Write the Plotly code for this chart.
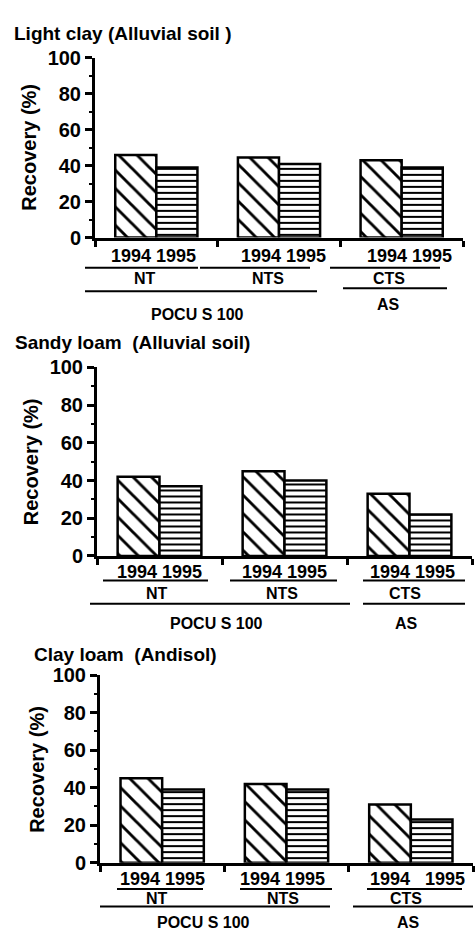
import plotly.graph_objects as go

W, H = 475, 943

groups = ["NT", "NTS", "CTS"]
years = ["1994", "1995"]
panel_titles = ["Light clay (Alluvial soil )", "Sandy loam  (Alluvial soil)", "Clay loam  (Andisol)"]

light_clay_1994 = [46, 44.5, 43]
light_clay_1995 = [39, 41, 39]
sandy_loam_1994 = [42, 45, 33]
sandy_loam_1995 = [37, 40, 22]
clay_loam_1994 = [45, 42, 31]
clay_loam_1995 = [39, 39, 23]

y_ticks = [0, 20, 40, 60, 80, 100]
y_title = "Recovery (%)"
year_labels = [["1994 1995", "1994 1995", "1994 1995"],
               ["1994 1995", "1994 1995", "1994 1995"],
               ["1994 1995", "1994 1995", "1994   1995"]]
treatment_labels = ["POCU S 100", "AS"]

series = [(light_clay_1994, light_clay_1995),
          (sandy_loam_1994, sandy_loam_1995),
          (clay_loam_1994, clay_loam_1995)]

# layout in pixels
panels = [
    dict(x0=95, x1=463, yt=48, yb=232, title=(12, 23), ytitle=(29, 140),
         years_y=251, years_x=[153, 283, 409],
         ul_y=263, ul=[(85, 198), (200, 310), (330, 440)],
         gl_y=274, gl_x=[145, 268, 389],
         l2=[(85, 317, 287), (343, 447, 284)],
         pocus=(197, 311), as_=(388, 300)),
    dict(x0=97, x1=472, yt=365, yb=558, title=(13, 339), ytitle=(31, 462),
         years_y=574, years_x=[159, 284, 412],
         ul_y=583, ul=[(103, 208), (230, 337), (363, 465)],
         gl_y=596, gl_x=[157, 282, 405],
         l2=[(90, 350, 607), (363, 465, 607)],
         pocus=(216, 627), as_=(406, 627)),
    dict(x0=100, x1=473, yt=680, yb=872, title=(32, 659), ytitle=(37, 777),
         years_y=889, years_x=[162, 282, 417],
         ul_y=899, ul=[(117, 203), (240, 332), (367, 462)],
         gl_y=909, gl_x=[157, 283, 406],
         l2=[(100, 330, 917), (353, 473, 917)],
         pocus=(203, 933), as_=(408, 933)),
]

FONT = "Liberation Sans"
px = lambda x: x / W
py = lambda y: 1 - y / H


def fnt(size):
    return dict(family=FONT, size=size, color="black", weight="bold")


fig = go.Figure()
annotations = []
shapes = []

for i, (p, (v94, v95)) in enumerate(zip(panels, series)):
    xa = "x" if i == 0 else f"x{i+1}"
    ya = "y" if i == 0 else f"y{i+1}"
    for yr, vals, shape, size, sol in [(years[0], v94, "\\", 13, 0.22),
                                        (years[1], v95, "-", 6, 0.34)]:
        fig.add_trace(go.Bar(
            x=list(range(len(groups))), y=vals, name=yr, xaxis=xa, yaxis=ya,
            marker=dict(color="white", line=dict(color="black", width=2.5),
                        pattern=dict(shape=shape, size=size, solidity=sol,
                                     fgcolor="black", bgcolor="white", fgopacity=1)),
            showlegend=False))
    xkey = "xaxis" if i == 0 else f"xaxis{i+1}"
    ykey = "yaxis" if i == 0 else f"yaxis{i+1}"
    fig.update_layout(**{
        xkey: dict(domain=[px(p["x0"]), px(p["x1"])], anchor=ya, range=[-0.5, 2.5],
                   showline=True, linecolor="black", linewidth=3,
                   tickvals=[-0.5, 0.5, 1.5, 2.5], ticktext=["", "", "", ""],
                   ticks="outside", ticklen=6, tickwidth=3, tickcolor="black",
                   showgrid=False, zeroline=False, fixedrange=True),
        ykey: dict(domain=[py(p["yb"]), py(p["yt"])], anchor=xa, range=[0, 100],
                   showline=True, linecolor="black", linewidth=3,
                   tickvals=y_ticks, ticks="outside", ticklen=7, tickwidth=2.5,
                   tickcolor="black", showgrid=False, zeroline=False,
                   tickfont=fnt(20),
                   minor=dict(dtick=10, ticks="outside", ticklen=3, tickwidth=2,
                              tickcolor="black"),
                   fixedrange=True),
    })
    annotations.append(dict(x=px(p["title"][0]), y=py(p["title"][1]), xref="paper", yref="paper",
                            text=panel_titles[i], showarrow=False, xanchor="left", yanchor="middle",
                            font=fnt(19)))
    annotations.append(dict(x=px(p["ytitle"][0]), y=py(p["ytitle"][1]), xref="paper", yref="paper",
                            text=y_title, showarrow=False, textangle=-90, xanchor="center", yanchor="middle",
                            font=fnt(20)))
    for g in range(3):
        annotations.append(dict(x=px(p["years_x"][g]), y=py(p["years_y"]), xref="paper", yref="paper",
                                text=year_labels[i][g], showarrow=False, xanchor="center", yanchor="middle",
                                font=fnt(18)))
        annotations.append(dict(x=px(p["gl_x"][g]), y=py(p["gl_y"]), xref="paper", yref="paper",
                                text=groups[g], showarrow=False, xanchor="center", yanchor="middle",
                                font=fnt(16)))
        a, b = p["ul"][g]
        shapes.append(dict(type="line", xref="paper", yref="paper", x0=px(a), x1=px(b),
                           y0=py(p["ul_y"]), y1=py(p["ul_y"]), line=dict(color="black", width=2)))
    for (a, b, yy) in p["l2"]:
        shapes.append(dict(type="line", xref="paper", yref="paper", x0=px(a), x1=px(b),
                           y0=py(yy), y1=py(yy), line=dict(color="black", width=2)))
    annotations.append(dict(x=px(p["pocus"][0]), y=py(p["pocus"][1]), xref="paper", yref="paper",
                            text=treatment_labels[0], showarrow=False, xanchor="center", yanchor="middle",
                            font=fnt(16)))
    annotations.append(dict(x=px(p["as_"][0]), y=py(p["as_"][1]), xref="paper", yref="paper",
                            text=treatment_labels[1], showarrow=False, xanchor="center", yanchor="middle",
                            font=fnt(16)))

fig.update_layout(width=W, height=H, margin=dict(l=0, r=0, t=0, b=0),
                  paper_bgcolor="white", plot_bgcolor="white",
                  barmode="group", bargap=0.33, bargroupgap=0,
                  annotations=annotations, shapes=shapes,
                  font=dict(family=FONT, color="black"))

fig.write_html("out.html", config={"displayModeBar": False},
               post_script="document.body.style.margin='0';document.body.style.padding='0';")
